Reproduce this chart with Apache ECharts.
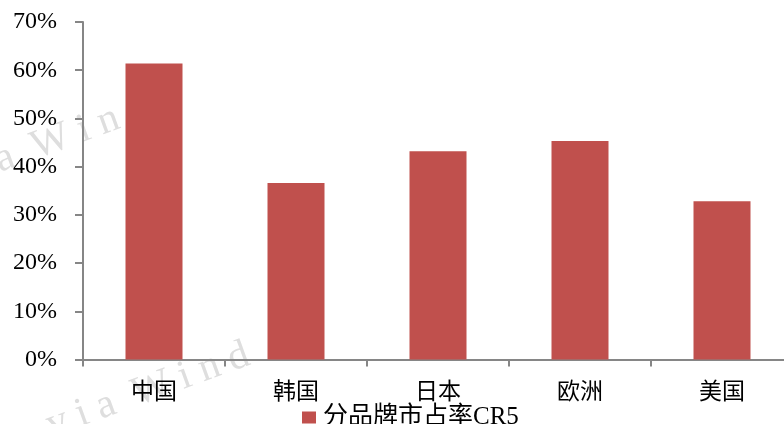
<!DOCTYPE html>
<html>
<head>
<meta charset="utf-8">
<script src="https://cdn.jsdelivr.net/npm/echarts@6/dist/echarts.min.js"></script>
<style>
  html, body { margin: 0; padding: 0; background: #fff; }
  #chart { width: 784px; height: 424px; }
</style>
</head>
<body>
<div id="chart"></div>
<script>
// Five-brand concentration (CR5) by market
const categories = ['中国', '韩国', '日本', '欧洲', '美国'];
const cr5Values = [61.4, 36.6, 43.2, 45.3, 32.8];
const seriesName = '分品牌市占率CR5';
const yTicks = { min: 0, max: 70, interval: 10 };

const FONT = '"Liberation Serif", "Noto Sans CJK SC", serif';
const chart = echarts.init(document.getElementById('chart'), null, { renderer: 'canvas' });

// faint "via Wind" stamps behind the plot
function stamp(x, y) {
  return {
    type: 'text',
    x: x, y: y,
    rotation: 20 * Math.PI / 180,
    z: -10,
    silent: true,
    style: {
      text: 'v i a  W i n d',
      font: '41px "Liberation Serif", serif',
      fill: '#dedede',
      textAlign: 'left',
      textVerticalAlign: 'bottom'
    }
  };
}

chart.setOption({
  animation: false,
  backgroundColor: '#ffffff',
  graphic: [stamp(-46, 199), stamp(55, 446)],
  grid: {
    left: 83, width: 710, top: 22, bottom: 64.5,
    containLabel: false,
    outerBoundsMode: 'none'
  },
  legend: {
    data: [seriesName],
    left: 297,
    top: 400,
    itemWidth: 14,
    itemHeight: 12,
    icon: 'rect',
    textStyle: { fontFamily: FONT, fontSize: 25, color: '#000', padding: [0, 0, 0, 2], lineHeight: 25 }
  },
  xAxis: {
    type: 'category',
    data: categories,
    boundaryGap: true,
    axisLine: { lineStyle: { color: '#868686', width: 2 } },
    axisTick: { show: true, length: 7, alignWithLabel: false, lineStyle: { color: '#868686', width: 2 } },
    axisLabel: { fontFamily: FONT, fontSize: 23, color: '#000', margin: 22 }
  },
  yAxis: {
    type: 'value',
    min: yTicks.min,
    max: yTicks.max,
    interval: yTicks.interval,
    splitLine: { show: false },
    axisLine: { show: true, lineStyle: { color: '#868686', width: 2 } },
    axisTick: { show: true, inside: false, length: 8, lineStyle: { color: '#868686', width: 2 } },
    axisLabel: { fontFamily: FONT, fontSize: 24, color: '#000', margin: 26, formatter: '{value}%' }
  },
  series: [{
    name: seriesName,
    type: 'bar',
    data: cr5Values,
    barWidth: 57,
    itemStyle: { color: '#c0504d' }
  }]
});
</script>
</body>
</html>
